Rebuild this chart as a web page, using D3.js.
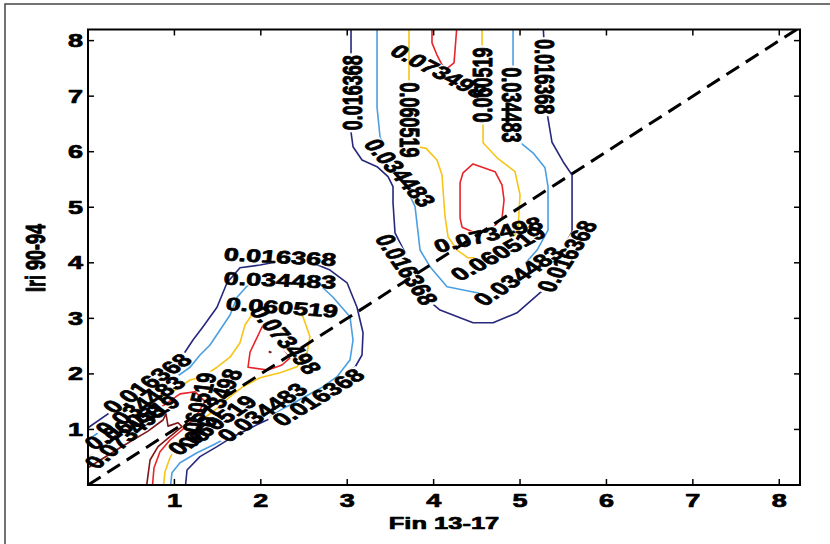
<!DOCTYPE html>
<html>
<head>
<meta charset="utf-8">
<title>Fin 13-17 vs Iri 90-94 density contours</title>
<script src="https://cdn.jsdelivr.net/npm/d3@7/dist/d3.min.js"></script>
<style>
  html, body { margin: 0; padding: 0; background: #fff; }
  svg { display: block; }
  text { font-family: "Liberation Sans", Arial, Helvetica, sans-serif; font-weight: bold; fill: #000; stroke: #000; stroke-width: 0.7px; stroke-linejoin: round; }
</style>
</head>
<body>
<svg id="chart" width="830" height="544"></svg>
<script>
// Contour levels of the joint density, outermost first
const levels = [0.016368, 0.034483, 0.060519, 0.073498];
const levelColors = ["#27287d", "#4b9fe1", "#f7c418", "#e8242b"];
const ridgeColor = "#7e1718";

const xTicks = [1, 2, 3, 4, 5, 6, 7, 8];
const yTicks = [1, 2, 3, 4, 5, 6, 7, 8];
const xTitle = "Fin 13-17";
const yTitle = "Iri 90-94";

// identity reference line (Fin = Iri)
const diagonal = [[0, 0], [8.3, 8.3]];

// ---- upper mode (Fin ~4.5, Iri ~5) ----
const upperOuter = [[3.044,8.3],[3.044,6.35],[3.067,6.09],[3.171,5.85],[3.345,5.73],[3.472,5.55],[3.530,5.37],[3.530,5.08],[3.553,4.54],[3.75,3.93],[3.958,3.30],[4.074,3.15],[4.456,2.92],[4.688,2.92],[4.965,3.10],[5.266,3.51],[5.43,4.05],[5.602,4.56],[5.602,5.08],[5.602,5.58],[5.498,5.82],[5.370,6.17],[5.313,6.70],[5.289,7.65],[5.266,8.3]];
const upperMiddle = [[3.345,8.3],[3.345,6.80],[3.380,6.26],[3.52,5.85],[3.67,5.40],[3.785,5.01],[3.843,4.23],[3.958,3.93],[4.155,3.57],[4.502,3.46],[4.676,3.46],[4.942,3.78],[5.197,4.23],[5.324,4.59],[5.324,5.37],[5.289,5.71],[5.150,5.98],[5.000,6.17],[4.93,6.57],[4.919,7.11],[4.919,7.53],[4.919,8.3]];
const upperInner = [[3.715,8.3],[3.715,7.29],[3.715,6.12],[3.912,6.06],[4.039,5.85],[4.097,5.58],[4.109,5.31],[4.132,4.83],[4.167,4.47],[4.271,4.23],[4.398,4.09],[4.653,4.09],[4.884,4.32],[4.977,4.63],[5.000,5.22],[4.942,5.64],[4.734,5.89],[4.572,6.16],[4.572,6.52],[4.560,7.89],[4.560,8.3]];
const upperCoreTop = [[3.981,8.3],[3.981,7.96],[4.039,7.74],[4.13,7.47],[4.236,7.60],[4.248,7.83],[4.271,8.3]];
const upperCore = [[4.329,4.64],[4.306,4.81],[4.306,5.44],[4.340,5.62],[4.456,5.78],[4.711,5.64],[4.792,5.40],[4.815,5.13],[4.792,4.81],[4.65,4.56],[4.45,4.56],[4.329,4.64]];

// ---- lower mode (Fin ~2.2, Iri ~2.4) and ridge near the origin ----
const lowerOuter = [[0,1.03],[0.602,1.68],[1.100,2.34],[1.215,2.61],[1.331,2.85],[1.493,3.20],[1.609,3.64],[1.759,3.91],[1.991,3.96],[2.16,4.01],[2.40,4.03],[2.63,3.98],[2.801,3.87],[2.998,3.64],[3.113,3.20],[3.183,2.74],[3.171,2.34],[3.090,2.12],[2.998,2.02],[2.685,1.71],[2.396,1.44],[2.072,1.17],[1.910,1.05],[1.678,0.87],[1.493,0.69],[1.296,0.51],[1.146,0.27],[1.123,-0.1]];
const lowerMiddle = [[0,0.81],[0.602,1.48],[1.181,2.12],[1.296,2.34],[1.412,2.52],[1.528,2.79],[1.644,3.06],[1.725,3.38],[1.875,3.64],[2.106,3.73],[2.454,3.71],[2.685,3.60],[2.836,3.38],[3.032,3.03],[3.067,2.61],[3.032,2.25],[2.882,1.95],[2.72,1.77],[2.338,1.44],[1.933,1.12],[1.644,0.88],[1.447,0.72],[1.262,0.58],[1.065,0.40],[0.972,0.22],[0.949,-0.1]];
const lowerInner = [[0,0.67],[0.509,1.19],[1.181,1.89],[1.331,1.95],[1.493,2.12],[1.644,2.30],[1.759,2.56],[1.817,2.88],[1.933,3.15],[2.106,3.28],[2.338,3.24],[2.488,3.03],[2.569,2.67],[2.535,2.38],[2.419,2.13],[2.222,2.02],[1.991,1.93],[1.794,1.77],[1.667,1.62],[1.47,1.35],[1.238,1.08],[1.065,0.81],[0.949,0.49],[0.891,0.24],[0.868,-0.1]];
const lowerCoreEdge = [[0,0.49],[0.428,0.94],[0.833,1.39],[1.065,1.64],[1.238,1.68],[1.354,1.50],[1.238,1.21],[1.088,0.99],[0.949,0.81],[0.833,0.60],[0.764,0.31],[0.741,-0.1]];
const lowerCore = [[2.025,2.88],[1.875,2.39],[1.852,2.12],[2.083,2.07],[2.245,2.16],[2.338,2.29],[2.22,2.55],[2.10,2.75],[2.025,2.88]];
const lowerRidge = [[0,0.31],[0.370,0.67],[0.694,0.97],[0.868,1.17],[0.903,1.28],[0.926,1.06],[1.042,1.12],[1.088,1.05],[0.949,0.87],[0.810,0.69],[0.718,0.45],[0.671,-0.1]];
const lowerPeak = [[2.100,2.380],[2.118,2.392],[2.100,2.404],[2.100,2.380]];

// inline contour labels: line id, Fin, Iri, text angle (deg, on screen)
const contourLabels = [
  ["uo", 3.056, 7.06, -90], ["uo", 5.289, 7.35, 90], ["uo", 3.69, 3.88, 55], ["uo", 5.54, 4.12, -57],
  ["um", 3.611, 5.62, 48], ["um", 4.977, 3.76, -33], ["um", 4.907, 6.84, 90],
  ["uy", 3.727, 6.57, 90], ["uy", 4.560, 7.20, -90], ["uy", 4.745, 4.17, -28],
  ["ut", 4.06, 7.45, 27],
  ["uc", 4.63, 4.51, -13],
  ["lo", 0.683, 1.83, -34], ["lo", 2.222, 4.11, 3], ["lo", 2.662, 1.58, -31],
  ["lm", 0.602, 1.43, -33], ["lm", 2.222, 3.69, 2], ["lm", 2.014, 1.31, -33],
  ["ly", 0.509, 1.13, -28], ["ly", 2.245, 3.20, 4], ["ly", 1.262, 1.35, -75], ["ly", 1.435, 1.08, -34],
  ["le", 0.428, 0.87, -40], ["le", 1.470, 1.44, -62],
  ["lc", 2.29, 2.61, 48]
];

const contourSet = [
  { id: "uo", band: 0, pts: upperOuter },
  { id: "um", band: 1, pts: upperMiddle },
  { id: "uy", band: 2, pts: upperInner },
  { id: "ut", band: 3, pts: upperCoreTop },
  { id: "uc", band: 3, pts: upperCore },
  { id: "lo", band: 0, pts: lowerOuter },
  { id: "lm", band: 1, pts: lowerMiddle },
  { id: "ly", band: 2, pts: lowerInner },
  { id: "le", band: 3, pts: lowerCoreEdge },
  { id: "lc", band: 3, pts: lowerCore },
  { id: "lr", band: 4, pts: lowerRidge },
  { id: "ld", band: 4, pts: lowerPeak }
];

const W = 830, H = 544;
const STRETCH = 1.5;               // text is drawn wide, as in the printed figure
const svg = d3.select("#chart");
const defs = svg.append("defs");

const x = d3.scaleLinear().domain([0, 8.24]).range([88, 800]);
const y = d3.scaleLinear().domain([0, 8.2]).range([485, 29.5]);
const [x0, x1] = x.range(), [y0, y1] = y.range();

// outer figure frame
svg.append("rect")
  .attr("x", 5).attr("y", 4).attr("width", W + 20).attr("height", H + 20)
  .attr("fill", "none").attr("stroke", "#444").attr("stroke-width", 1.5);

defs.append("clipPath").attr("id", "plotClip")
  .append("rect").attr("x", x0).attr("y", y1).attr("width", x1 - x0).attr("height", y0 - y1);

function stretched(px, py, deg) {
  const r = deg * Math.PI / 180;
  const local = Math.atan2(STRETCH * Math.sin(r), Math.cos(r)) * 180 / Math.PI;
  return `translate(${px},${py}) scale(${STRETCH},1) rotate(${local})`;
}

// one mask per contour line so its own labels cut a gap in it
const masks = {};
contourSet.forEach(c => {
  const m = defs.append("mask").attr("id", "gap-" + c.id)
    .attr("maskUnits", "userSpaceOnUse")
    .attr("x", 0).attr("y", 0).attr("width", W).attr("height", H);
  m.append("rect").attr("width", W).attr("height", H).attr("fill", "#fff");
  masks[c.id] = m;
});

const line = d3.line().x(d => x(d[0])).y(d => y(d[1]));
const plot = svg.append("g").attr("clip-path", "url(#plotClip)");

plot.selectAll("path.contour")
  .data(contourSet)
  .join("path")
  .attr("class", "contour")
  .attr("d", c => line(c.pts))
  .attr("fill", "none")
  .attr("stroke", c => c.band < levels.length ? levelColors[c.band] : ridgeColor)
  .attr("stroke-width", 1.6)
  .attr("stroke-linejoin", "round")
  .attr("mask", c => `url(#gap-${c.id})`);

plot.append("path")
  .attr("d", line(diagonal))
  .attr("fill", "none")
  .attr("stroke", "#000")
  .attr("stroke-width", 3)
  .attr("stroke-dasharray", "15,8");

// contour labels
const bandOf = Object.fromEntries(contourSet.map(c => [c.id, c.band]));
const labelLayer = svg.append("g");
contourLabels.forEach(([id, fx, fy, ang]) => {
  const tf = stretched(x(fx), y(fy), ang);
  const t = labelLayer.append("text")
    .attr("transform", tf)
    .attr("text-anchor", "middle")
    .attr("dy", "0.36em")
    .attr("font-size", 18)
    .text(String(levels[bandOf[id]]));
  const w = t.node().getComputedTextLength();
  masks[id].append("rect")
    .attr("transform", tf)
    .attr("x", -w / 2 - 2).attr("y", -6.5)
    .attr("width", w + 4).attr("height", 13)
    .attr("fill", "#000");
});

// axes box
svg.append("rect")
  .attr("x", x0).attr("y", y1).attr("width", x1 - x0).attr("height", y0 - y1)
  .attr("fill", "none").attr("stroke", "#000").attr("stroke-width", 2);

// inward ticks on all four sides
const tickLen = 6;
const ticks = svg.append("g").attr("stroke", "#000").attr("stroke-width", 1.5);
xTicks.forEach(v => {
  ticks.append("line").attr("x1", x(v)).attr("x2", x(v)).attr("y1", y0).attr("y2", y0 - tickLen);
  ticks.append("line").attr("x1", x(v)).attr("x2", x(v)).attr("y1", y1).attr("y2", y1 + tickLen);
});
yTicks.forEach(v => {
  ticks.append("line").attr("x1", x0).attr("x2", x0 + tickLen).attr("y1", y(v)).attr("y2", y(v));
  ticks.append("line").attr("x1", x1).attr("x2", x1 - tickLen).attr("y1", y(v)).attr("y2", y(v));
});

// tick labels
svg.append("g").selectAll("text")
  .data(xTicks).join("text")
  .attr("transform", d => stretched(x(d), 507, 0))
  .attr("text-anchor", "middle")
  .attr("font-size", 18)
  .text(d => d);

svg.append("g").selectAll("text")
  .data(yTicks).join("text")
  .attr("transform", d => stretched(83, y(d), 0))
  .attr("text-anchor", "end")
  .attr("dy", "0.36em")
  .attr("font-size", 18)
  .text(d => d);

// axis titles
svg.append("text")
  .attr("transform", stretched((x0 + x1) / 2, 529, 0))
  .attr("text-anchor", "middle")
  .attr("font-size", 17)
  .text(xTitle);

svg.append("text")
  .attr("transform", stretched(35, 258, -90))
  .attr("text-anchor", "middle")
  .attr("dy", "0.36em")
  .attr("font-size", 18)
  .text(yTitle);
</script>
</body>
</html>
